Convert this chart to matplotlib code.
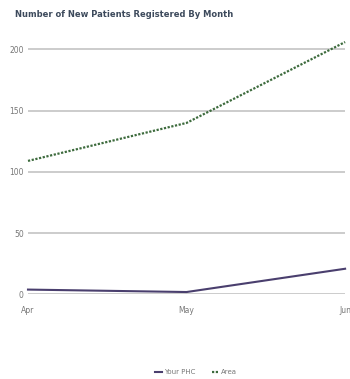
import matplotlib
matplotlib.use("Agg")
import matplotlib.pyplot as plt

months = ["Apr", "May", "Jun"]
your_phc = [4, 2, 21]
area = [109, 140, 206]
yticks = [0, 50, 100, 150, 200]

fig = plt.figure(figsize=(3.5, 3.79), dpi=100)
ax = fig.add_axes([0.08, 0.223, 0.906, 0.679])
x = list(range(len(months)))

ax.plot(x, your_phc, color="#4a3f6e", lw=1.5, label="Your PHC", clip_on=False, zorder=3)
ax.plot(x, area, color="#3d6b3d", lw=1.6, ls=(0, (1, 0.7)), label="Area", clip_on=False, zorder=3)

ax.set_xlim(0, 2)
ax.set_ylim(0, 210)
ax.set_yticks(yticks)
ax.set_xticks(x)
ax.set_xticklabels(months)
ax.grid(axis="y", color="#c4c4c4", lw=1.2)
ax.set_axisbelow(True)
for s in ax.spines.values():
    s.set_visible(False)
ax.tick_params(axis="both", length=0, labelsize=5.5, labelcolor="#777777")
ax.tick_params(axis="y", pad=3)
ax.tick_params(axis="x", pad=8)
for lbl in ax.get_xticklabels():
    lbl.set_clip_on(False)

fig.text(0.043, 0.963, "Number of New Patients Registered By Month", fontsize=6,
         fontweight="bold", color="#3d4a5c", va="center", ha="left")

leg = fig.legend(loc="center", bbox_to_anchor=(0.56, 0.018), ncol=2, frameon=False,
                 fontsize=5, handlelength=1.0, columnspacing=2.5, handletextpad=0.3,
                 labelcolor="#777777")

fig.savefig("out.png", dpi=100)
